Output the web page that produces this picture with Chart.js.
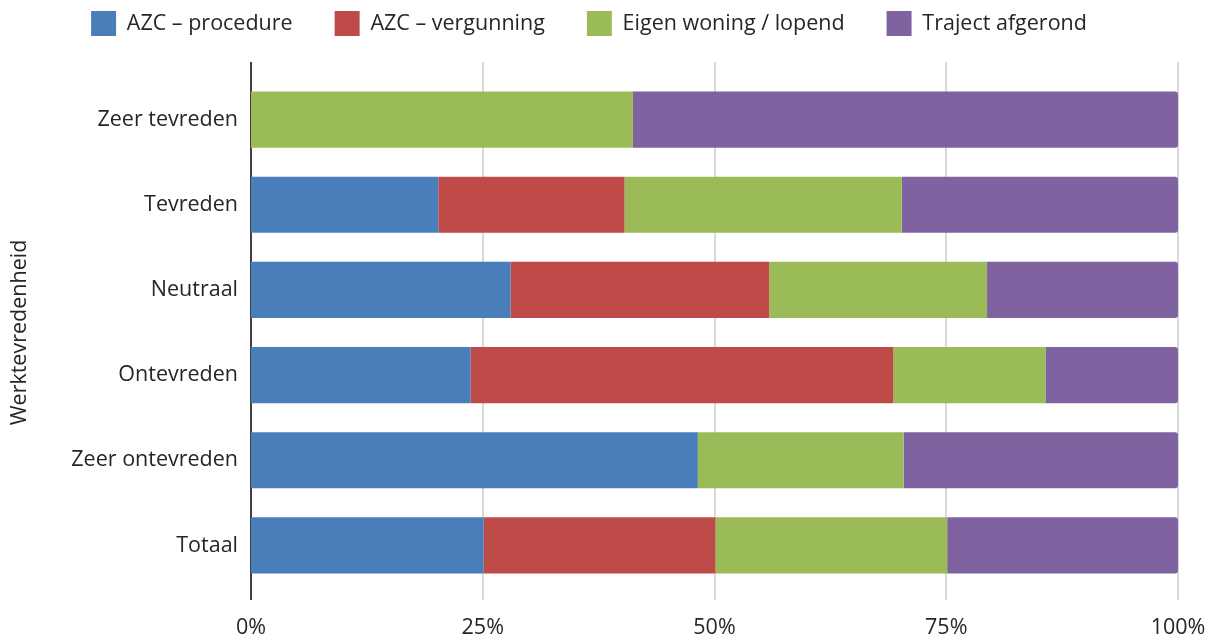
<!DOCTYPE html>
<html lang="nl">
<head>
    <meta charset="UTF-8">
    <title>Werktevredenheid</title>
    <script src="https://cdn.jsdelivr.net/npm/chart.js"></script>
    <style>
        body {
            margin: 0;
            background: #ffffff;
        }
        .chart-wrapper {
            position: relative;
            width: 1219px;
            height: 636px;
        }
    </style>
</head>
<body>
<div class="chart-wrapper">
    <canvas id="myChart"></canvas>
</div>

<script>
    const categories = ["Zeer tevreden", "Tevreden", "Neutraal", "Ontevreden", "Zeer ontevreden", "Totaal"];
    const seriesNames = ["AZC \u2013 procedure", "AZC \u2013 vergunning", "Eigen woning / lopend", "Traject afgerond"];

    const procedure = [0, 20.2, 28.0, 23.7, 48.2, 25.1];
    const vergunning = [0, 20.1, 27.9, 45.6, 0, 25.0];
    const eigenWoning = [41.2, 29.9, 23.5, 16.4, 22.2, 25.0];
    const afgerond = [58.8, 29.8, 20.6, 14.3, 29.6, 24.9];

    const xTicks = [0, 25, 50, 75, 100];

    const colors = ['#4a7ebb', '#be4b48', '#9bbb59', '#7f63a1'];
    const seriesValues = [procedure, vergunning, eigenWoning, afgerond];

    const textColor = '#262626';
    const fontFamily = '"Open Sans", sans-serif';
    const fontSize = 21.5;

    // grid lines reach a bit past the bars, like the original
    const gridPlugin = {
        id: 'extendedGrid',
        beforeDatasetsDraw(chart) {
            const ctx = chart.ctx;
            const area = chart.chartArea;
            const x = chart.scales.x;
            ctx.save();
            ctx.lineWidth = 2;
            xTicks.forEach(v => {
                const px = Math.round(x.getPixelForValue(v));
                ctx.strokeStyle = v === 0 ? '#404040' : '#d9d9d9';
                ctx.beginPath();
                ctx.moveTo(px, area.top - 15);
                ctx.lineTo(px, area.bottom + 12);
                ctx.stroke();
            });
            ctx.restore();
        }
    };

    const datasets = seriesValues.map((vals, i) => ({
        label: seriesNames[i],
        data: vals,
        backgroundColor: colors[i],
        borderWidth: 0,
        borderSkipped: false,
        borderRadius: i === 3 ? {topRight: 3, bottomRight: 3} : 0,
        barPercentage: 0.66,
        categoryPercentage: 1.0
    }));

    const config = {
        type: 'bar',
        data: {
            labels: categories,
            datasets: datasets
        },
        options: {
            indexAxis: 'y',
            responsive: true,
            maintainAspectRatio: false,
            animation: false,
            layout: {
                padding: {top: -31, right: 41, bottom: 0, left: 0}
            },
            plugins: {
                legend: {
                    position: 'top',
                    labels: {
                        boxWidth: 25,
                        boxHeight: 25,
                        padding: 42,
                        color: textColor,
                        font: {family: fontFamily, size: fontSize}
                    }
                },
                // empty spacer between legend and plot
                subtitle: {
                    display: true,
                    position: 'top',
                    weight: 1,
                    text: ' ',
                    font: {size: 11, lineHeight: 1},
                    padding: {top: 0, bottom: 20}
                },
                tooltip: {enabled: false}
            },
            scales: {
                x: {
                    stacked: true,
                    min: 0,
                    max: 100,
                    afterBuildTicks: scale => {
                        scale.ticks = xTicks.map(v => ({value: v}));
                    },
                    afterFit: scale => {
                        scale.height = 48;
                        scale.paddingLeft = 0;
                        scale.paddingRight = 0;
                    },
                    grid: {display: false, drawTicks: false},
                    border: {display: false},
                    ticks: {
                        padding: 27,
                        color: textColor,
                        font: {family: fontFamily, size: fontSize}
                        ,
                        callback: v => v + '%'
                    }
                },
                y: {
                    stacked: true,
                    grid: {display: false, drawTicks: false},
                    border: {display: false},
                    afterFit: scale => {
                        scale.width = 251;
                    },
                    ticks: {
                        padding: 13,
                        color: textColor,
                        font: {family: fontFamily, size: fontSize}
                    },
                    title: {
                        display: true,
                        text: 'Werktevredenheid',
                        color: textColor,
                        font: {family: fontFamily, size: fontSize},
                        padding: {top: 7, bottom: 0}
                    }
                }
            }
        },
        plugins: [gridPlugin]
    };

    const myChart = new Chart(document.getElementById('myChart'), config);
</script>
</body>
</html>
